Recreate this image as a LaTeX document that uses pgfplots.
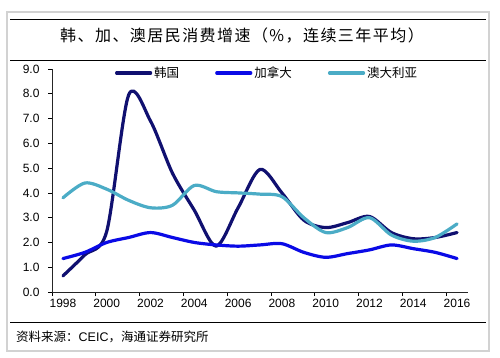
\documentclass[border=0pt]{standalone}
\usepackage{fontspec}
\setmainfont{Liberation Sans}
\newfontfamily\cjk{Noto Sans CJK SC}
\newfontfamily\cjktitle[LetterSpace=9]{Noto Sans CJK SC}
\usepackage{pgfplots}
\pgfplotsset{compat=1.18}
\definecolor{korea}{RGB}{16,16,112}
\definecolor{canada}{RGB}{10,10,230}
\definecolor{aus}{RGB}{75,172,198}
\definecolor{framegrey}{RGB}{210,210,210}
\begin{document}
\begin{tikzpicture}
\fill[white] (0pt,0pt) rectangle (500pt,-357pt);
\draw[framegrey, line width=1.2pt] (7pt,-12pt) rectangle (489pt,-351pt);
\draw[black, line width=1pt] (10pt,-19pt) -- (486pt,-19pt);
\draw[black, line width=1pt] (10pt,-60pt) -- (486pt,-60pt);
\draw[black, line width=1pt] (10pt,-322pt) -- (486pt,-322pt);
\node[font=\cjktitle\fontsize{16}{18}\selectfont] at (242pt,-36pt) {韩、加、澳居民消费增速（\%，连续三年平均）};
\node[anchor=west, inner sep=0pt, font=\fontsize{12.5}{15}\selectfont] at (16pt,-337pt) {{\cjk 资料来源：}CEIC{\cjk ，海通证券研究所}};
\begin{axis}[
  at={(52pt,-292pt)}, anchor=south west,
  scale only axis, width=416pt, height=223pt,
  xmin=1997.5, xmax=2016.5, ymin=0, ymax=9,
  xtick={1998,2000,...,2016},
  xticklabels={1998,2000,2002,2004,2006,2008,2010,2012,2014,2016},
  minor xtick={1997.5,1999.5,...,2015.5},
  major x tick style={draw=none},
  minor x tick style={black, line width=0.6pt},
  ytick={0,1,...,9},
  y tick style={black, line width=0.6pt},
  tick align=outside,
  major tick length=4pt, minor tick length=4pt,
  axis x line*=bottom, axis y line*=left,
  axis line style={black!85, line width=0.8pt, -},
  tick label style={font=\fontsize{12}{14}\selectfont},
  yticklabel style={xshift=-5pt},
  y tick label style={/pgf/number format/fixed, /pgf/number format/fixed zerofill, /pgf/number format/precision=1, /pgf/number format/assume math mode=true},
  legend style={at={(0.151,0.982)}, anchor=west, draw=none, fill=none,
    inner sep=0pt, font=\cjk\fontsize{12.5}{14}\selectfont,
    /tikz/every even column/.append style={column sep=34pt}},
  legend columns=3,
  legend image code/.code={\draw[#1] (0pt,0pt) -- (34pt,0pt);},
  every axis plot/.append style={smooth, line width=3.2pt, line join=round, line cap=round},
]
\addplot[korea] coordinates {
(1998,0.65) (1999,1.5) (2000,2.45) (2001,7.95) (2002,6.9) (2003,4.8) (2004,3.3) (2005,1.85)
(2006,3.4) (2007,4.95) (2008,4.0) (2009,2.9) (2010,2.6) (2011,2.8) (2012,3.05) (2013,2.4)
(2014,2.15) (2015,2.2) (2016,2.4)};
\addlegendentry{韩国}
\addplot[canada] coordinates {
(1998,1.35) (1999,1.6) (2000,2.0) (2001,2.2) (2002,2.4) (2003,2.2) (2004,2.0) (2005,1.9)
(2006,1.85) (2007,1.9) (2008,1.95) (2009,1.6) (2010,1.4) (2011,1.55) (2012,1.7) (2013,1.9)
(2014,1.75) (2015,1.6) (2016,1.35)};
\addlegendentry{加拿大}
\addplot[aus] coordinates {
(1998,3.8) (1999,4.4) (2000,4.15) (2001,3.7) (2002,3.4) (2003,3.5) (2004,4.3) (2005,4.05)
(2006,4.0) (2007,3.95) (2008,3.85) (2009,3.0) (2010,2.4) (2011,2.6) (2012,3.0) (2013,2.3)
(2014,2.05) (2015,2.2) (2016,2.75)};
\addlegendentry{澳大利亚}
\end{axis}
\end{tikzpicture}
\end{document}
